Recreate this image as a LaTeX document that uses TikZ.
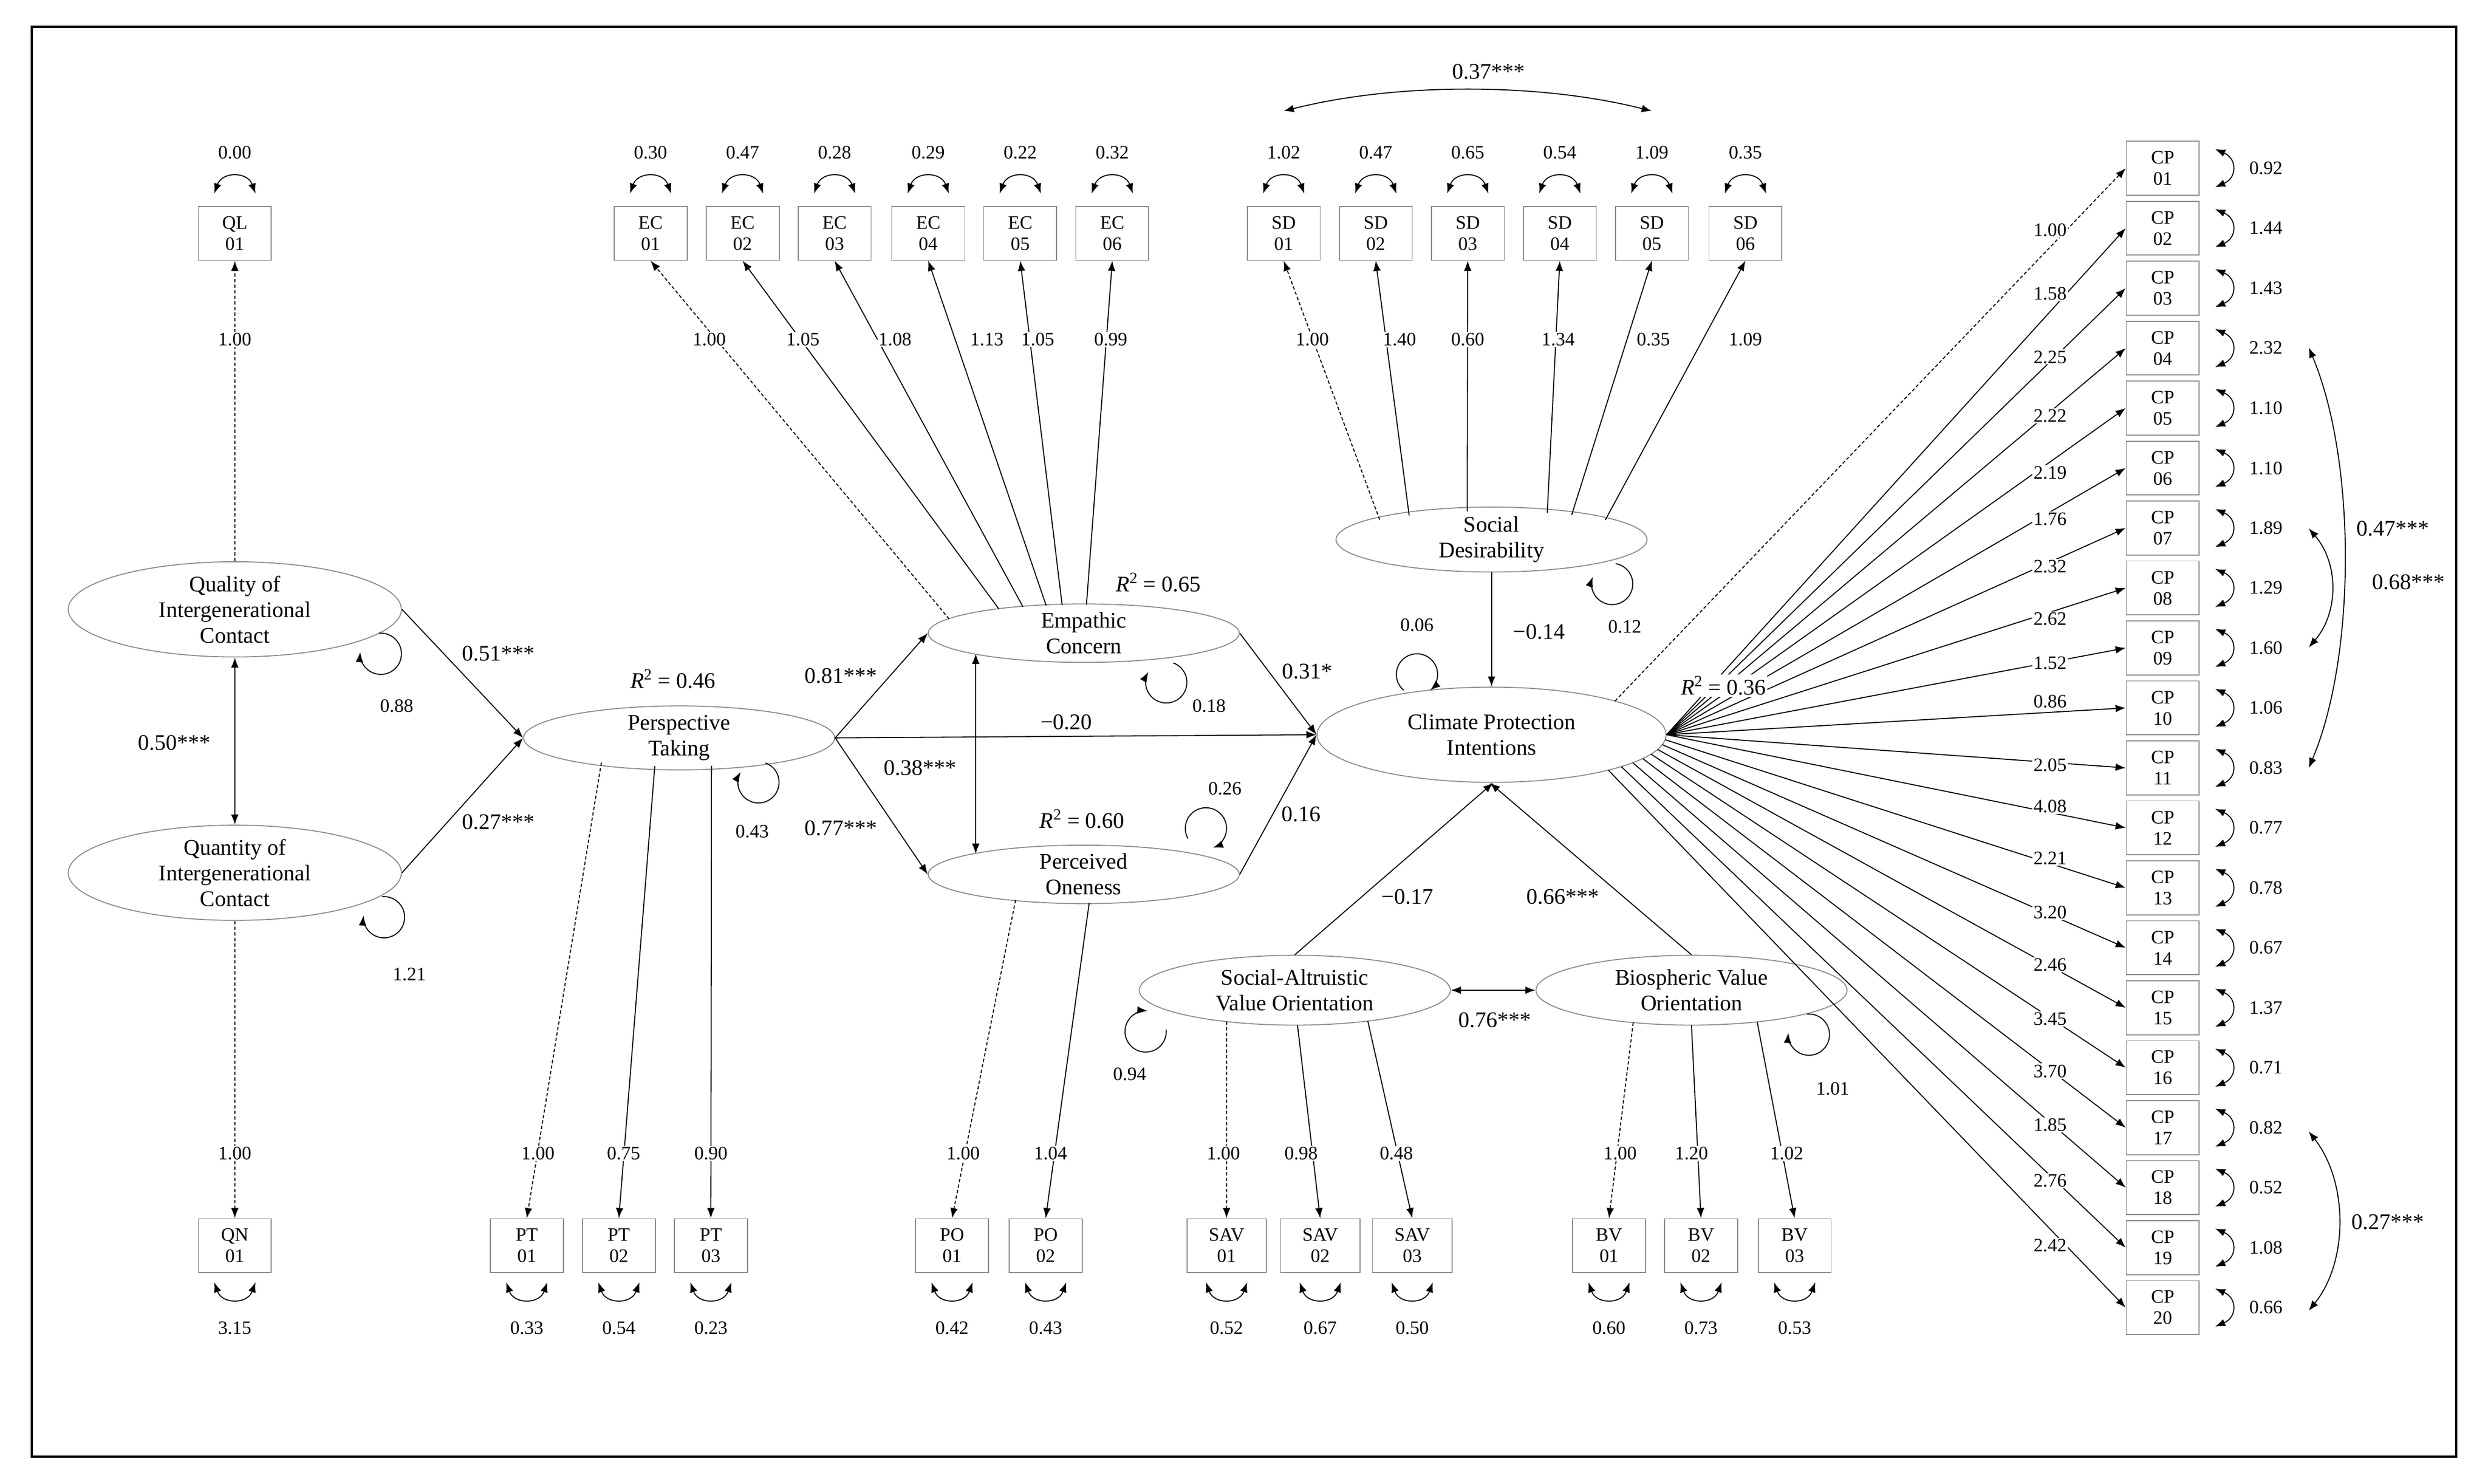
\documentclass[tikz,border=0pt]{standalone}
\usepackage{fontspec}
\setmainfont{Liberation Serif}
\usetikzlibrary{shapes.geometric,arrows.meta,calc}
\begin{document}
\begin{tikzpicture}[x=0.5mm,y=-0.5mm,
  >={Latex[length=3.2mm,width=2.4mm]},
  box/.style={draw=black!45,line width=0.9pt,minimum width=23mm,minimum height=17mm,inner sep=0pt,align=center,font=\fontsize{17}{19}\selectfont},
  wbox/.style={box,minimum width=25mm},
  lat/.style={ellipse,draw=black!45,line width=0.9pt,inner sep=0pt,align=center,font=\fontsize{20}{23}\selectfont},
  sm/.style={font=\fontsize{17}{19}\selectfont,inner sep=1pt},
  lb/.style={font=\fontsize{20}{22}\selectfont,inner sep=1.5pt},
  wl/.style={sm,fill=white},
  ln/.style={line width=0.9pt},
  dl/.style={ln,densely dashed},
]
\useasboundingbox (0,0) rectangle (1568,935);
\draw[line width=2pt] (20,17) rectangle (1548,918);
\newcommand\myloop[3]{\draw[ln,->] ($(#1,#2)+(#3+40:13)$) arc[start angle=#3+40,delta angle=280,radius=13];}
\newcommand\topvar[2]{\draw[ln,<->] (#1-13,122) .. controls (#1-8,108) and (#1+8,108) .. (#1+13,122); \node[sm] at (#1,96) {#2};}
\newcommand\botvar[2]{\draw[ln,<->] (#1-13,808) .. controls (#1-8,822) and (#1+8,822) .. (#1+13,808); \node[sm] at (#1,837) {#2};}
% point on ellipse (node, parametric angle, rx, ry)
\newcommand\ep[4]{($(#1)+({#3*cos(#2)},{-#4*sin(#2)})$)}
% latent
\node[lat,minimum width=105mm,minimum height=30mm] (ql) at (148,384) {Quality of\\Intergenerational\\Contact};
\node[lat,minimum width=105mm,minimum height=30mm] (qn) at (148,550) {Quantity of\\Intergenerational\\Contact};
\node[lat,minimum width=98mm,minimum height=18mm] (pt) at (428,465) {Perspective\\Taking};
\node[lat,minimum width=98mm,minimum height=18mm] (ec) at (683,399) {Empathic\\Concern};
\node[lat,minimum width=98mm,minimum height=18mm] (po) at (683,551) {Perceived\\Oneness};
\node[lat,minimum width=98mm,minimum height=18mm] (sd) at (940,340) {Social\\Desirability};
\node[lat,minimum width=110mm,minimum height=30mm] (cpi) at (940,463) {Climate Protection\\Intentions};
\node[lat,minimum width=98mm,minimum height=22mm] (sav) at (816,624) {Social-Altruistic\\Value Orientation};
\node[lat,minimum width=98mm,minimum height=22mm] (bv) at (1066,624) {Biospheric Value\\Orientation};
% boxes
\node[box] (ql1) at (148,147) {QL\\01};
\node[box] (qn1) at (148,785) {QN\\01};
\foreach \x [count=\i] in {410,468,526,585,643,701} \node[box] (ec\i) at (\x,147) {EC\\0\i};
\foreach \x [count=\i] in {809,867,925,983,1041,1100} \node[box] (sd\i) at (\x,147) {SD\\0\i};
\foreach \x [count=\i] in {332,390,448} \node[box] (pt\i) at (\x,785) {PT\\0\i};
\foreach \x [count=\i] in {600,659} \node[box] (po\i) at (\x,785) {PO\\0\i};
\foreach \x [count=\i] in {773,832,890} \node[wbox] (sav\i) at (\x,785) {SAV\\0\i};
\foreach \x [count=\i] in {1014,1072,1131} \node[box] (bv\i) at (\x,785) {BV\\0\i};
\foreach \i in {1,...,20} {
  \pgfmathsetmacro\yy{106+(\i-1)*37.79}
  \ifnum\i<10 \node[box] (cp\i) at (1363,\yy) {CP\\0\i};\else \node[box] (cp\i) at (1363,\yy) {CP\\\i};\fi
}
% variances
\topvar{148}{0.00}
\foreach \x/\v in {410/0.30,468/0.47,526/0.28,585/0.29,643/0.22,701/0.32,809/1.02,867/0.47,925/0.65,983/0.54,1041/1.09,1100/0.35} {\topvar{\x}{\v}}
\foreach \x/\v in {148/3.15,332/0.33,390/0.54,448/0.23,600/0.42,659/0.43,773/0.52,832/0.67,890/0.50,1014/0.60,1072/0.73,1131/0.53} {\botvar{\x}{\v}}
\foreach \v [count=\i] in {0.92,1.44,1.43,2.32,1.10,1.10,1.89,1.29,1.60,1.06,0.83,0.77,0.78,0.67,1.37,0.71,0.82,0.52,1.08,0.66} {
  \pgfmathsetmacro\yy{106+(\i-1)*37.79}
  \draw[ln,<->] (1396,\yy-12) .. controls (1410,\yy-6) and (1410,\yy+6) .. (1396,\yy+12);
  \node[sm] at (1428,\yy) {\v};
}
% loops
\myloop{240}{412}{225}\node[sm] at (250,445) {0.88};
\myloop{242}{578}{225}\node[sm] at (258,614) {1.21};
\myloop{478}{493}{250}\node[sm] at (474,524) {0.43};
\myloop{735}{430}{250}\node[sm] at (762,445) {0.18};
\myloop{760}{522}{110}\node[sm] at (772,497) {0.26};
\myloop{1016}{368}{240}\node[sm] at (1024,395) {0.12};
\myloop{893}{425}{90}\node[sm] at (893,394) {0.06};
\myloop{722}{650}{315}\node[sm] at (712,677) {0.94};
\myloop{1140}{652}{225}\node[sm] at (1155,686) {1.01};
% correlations
\draw[ln,<->] (809,70) .. controls (880,52) and (970,52) .. (1041,70);
\node[lb] at (938,45) {0.37***};
\draw[ln,<->] (1455,219) .. controls (1485,290) and (1485,413) .. (1455,484);
\node[lb] at (1508,333) {0.47***};
\draw[ln,<->] (1455,333) .. controls (1474,355) and (1474,386) .. (1455,408);
\node[lb] at (1518,367) {0.68***};
\draw[ln,<->] (1455,713) .. controls (1480,745) and (1480,795) .. (1455,826);
\node[lb] at (1505,770) {0.27***};
% loadings
\draw[dl,->] (ql.north) -- (ql1.south); \node[wl] at (148,214) {1.00};
\draw[dl,->] (qn.south) -- (qn1.north); \node[wl] at (148,727) {1.00};
\foreach \a/\i/\v/\lx in {150/1/1.00/447,123/2/1.05/506,113/3/1.08/564,104/4/1.13/622,98/5/1.05/654,89/6/0.99/700} {
  \ifnum\i=1 \draw[dl,->] \ep{ec}{\a}{98}{18} -- (ec\i.south);\else \draw[ln,->] \ep{ec}{\a}{98}{18} -- (ec\i.south);\fi
  \node[wl] at (\lx,214) {\v};}
\foreach \a/\i/\v/\lx in {136/1/1.00/827,122/2/1.40/882,99/3/0.60/925,69/4/1.34/982,59/5/0.35/1042,43/6/1.09/1100} {
  \ifnum\i=1 \draw[dl,->] \ep{sd}{\a}{98}{18} -- (sd\i.south);\else \draw[ln,->] \ep{sd}{\a}{98}{18} -- (sd\i.south);\fi
  \node[wl] at (\lx,214) {\v};}
\draw[dl,->] \ep{pt}{240}{98}{18} -- (pt1.north); \node[wl] at (339,727) {1.00};
\draw[ln,->] \ep{pt}{261}{98}{18} -- (pt2.north); \node[wl] at (393,727) {0.75};
\draw[ln,->] \ep{pt}{282}{98}{18} -- (pt3.north); \node[wl] at (448,727) {0.90};
\draw[dl,->] \ep{po}{244}{98}{18} -- (po1.north); \node[wl] at (607,727) {1.00};
\draw[ln,->] \ep{po}{272}{98}{18} -- (po2.north); \node[wl] at (662,727) {1.04};
\draw[dl,->] \ep{sav}{244}{98}{22} -- (sav1.north); \node[wl] at (771,727) {1.00};
\draw[ln,->] \ep{sav}{271}{98}{22} -- (sav2.north); \node[wl] at (820,727) {0.98};
\draw[ln,->] \ep{sav}{298}{98}{22} -- (sav3.north); \node[wl] at (880,727) {0.48};
\draw[dl,->] \ep{bv}{248}{98}{22} -- (bv1.north); \node[wl] at (1021,727) {1.00};
\draw[ln,->] \ep{bv}{270}{98}{22} -- (bv2.north); \node[wl] at (1066,727) {1.20};
\draw[ln,->] \ep{bv}{295}{98}{22} -- (bv3.north); \node[wl] at (1126,727) {1.02};
\draw[dl,->] \ep{cpi}{45}{110}{30} -- (cp1.west);
\foreach \i in {2,...,12} \draw[ln,->] (cpi.east) -- (cp\i.west);
\foreach \i in {13,...,20} {\pgfmathtruncatemacro\ang{-(\i-12)*6} \draw[ln,->] \ep{cpi}{\ang}{110}{30} -- (cp\i.west);}
\foreach \v/\yy in {1.00/145,1.58/185,2.25/225,2.22/262,2.19/298,1.76/327,2.32/357,2.62/390,1.52/418,0.86/442,2.05/482,4.08/508,2.21/541,3.20/575,2.46/608,3.45/642,3.70/675,1.85/709,2.76/744,2.42/785}
  \node[wl] at (1292,\yy) {\v};
% structural
\draw[ln,<->] (ql.south) -- (qn.north); \node[lb] at (110,468) {0.50***};
\draw[ln,->] (ql.east) -- (pt.west); \node[lb] at (314,412) {0.51***};
\draw[ln,->] (qn.east) -- (pt.west); \node[lb] at (314,518) {0.27***};
\draw[ln,->] (pt.east) -- (ec.west); \node[lb] at (530,426) {0.81***};
\draw[ln,->] (pt.east) -- (po.west); \node[lb] at (530,522) {0.77***};
\draw[ln,->] (pt.east) -- (cpi.west); \node[lb] at (672,455) {−0.20};
\draw[ln,<->] \ep{ec}{226}{98}{18} -- \ep{po}{134}{98}{18}; \node[lb] at (580,484) {0.38***};
\draw[ln,->] (ec.east) -- (cpi.west); \node[lb] at (824,423) {0.31*};
\draw[ln,->] (po.east) -- (cpi.west); \node[lb] at (820,513) {0.16};
\draw[ln,->] (sd.south) -- (cpi.north); \node[lb] at (970,398) {−0.14};
\draw[ln,->] (sav.north) -- (cpi.272); \node[lb] at (887,565) {−0.17};
\draw[ln,->] (bv.north) -- (cpi.268); \node[lb] at (985,565) {0.66***};
\draw[ln,<->] (sav.east) -- (bv.west); \node[lb] at (942,643) {0.76***};
% R2
\node[lb] at (424,428) {\textit{R}\textsuperscript{2} = 0.46};
\node[lb] at (730,367) {\textit{R}\textsuperscript{2} = 0.65};
\node[lb] at (682,516) {\textit{R}\textsuperscript{2} = 0.60};
\node[lb,fill=white] at (1086,432) {\textit{R}\textsuperscript{2} = 0.36};
\end{tikzpicture}
\end{document}
